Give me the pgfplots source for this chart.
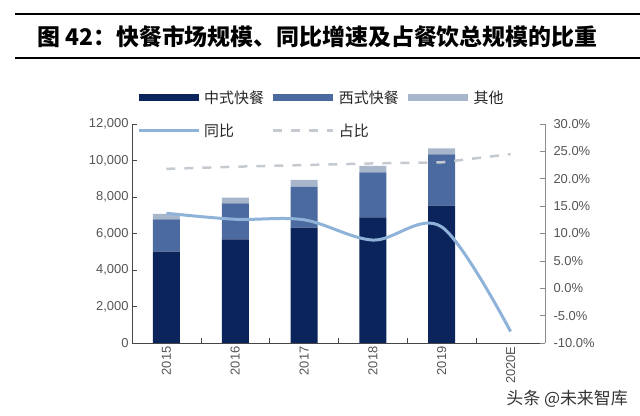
\documentclass[border=0pt]{standalone}
\usepackage{pgfplots}
\pgfplotsset{compat=1.18}
\usepackage{fontspec}
\setmainfont{Liberation Sans}
\newfontfamily\cjk{Noto Sans CJK SC}
\definecolor{cnavy}{RGB}{12,36,92}
\definecolor{cmid}{RGB}{74,106,160}
\definecolor{clight}{RGB}{168,182,204}
\definecolor{cyoy}{RGB}{142,178,216}
\definecolor{cshare}{RGB}{196,202,208}
\definecolor{caxis}{RGB}{70,70,70}
\definecolor{clabel}{RGB}{85,85,85}
\begin{document}
\begin{tikzpicture}
\path[use as bounding box] (0,0) rectangle (640bp,416bp);
\draw[line width=1.3bp] (15bp,402bp) -- (640bp,402bp);
\draw[line width=1.3bp] (15bp,358bp) -- (640bp,358bp);
\node[anchor=west, inner sep=0] at (37bp,379bp) {\fontsize{23}{27}\selectfont\cjk\bfseries 图 42：快餐市场规模、同比增速及占餐饮总规模的比重};
\begin{axis}[
  at={(132bp,73bp)}, anchor=south west, scale only axis,
  width=413bp, height=219bp,
  xmin=-0.5, xmax=5.5, ymin=0, ymax=12000,
  axis x line*=bottom, axis y line*=left,
  axis line style={caxis, line width=0.8bp},
  ybar stacked, bar width=27bp,
  xtick={0,1,2,3,4,5},
  xticklabels={2015,2016,2017,2018,2019,2020E},
  major x tick style={draw=none},
  minor xtick={0.5,1.5,2.5,3.5,4.5},
  minor x tick style={caxis, line width=0.6bp},
  minor tick length=5bp,
  xticklabel style={rotate=90, anchor=east, font=\fontsize{13}{15}\selectfont, text=clabel},
  ytick={0,2000,4000,6000,8000,10000,12000},
  scaled y ticks=false,
  y tick style={caxis, line width=0.6bp},
  major tick length=5bp,
  yticklabel style={font=\fontsize{13}{15}\selectfont, text=clabel,
    /pgf/number format/.cd, fixed, 1000 sep={,}, assume math mode=true},
  tick align=inside,
]
\addplot[fill=cnavy, draw=none] coordinates {(0,5000) (1,5680) (2,6320) (3,6890) (4,7525)};
\addplot[fill=cmid, draw=none] coordinates {(0,1780) (1,1975) (2,2250) (3,2460) (4,2815)};
\addplot[fill=clight, draw=none] coordinates {(0,290) (1,310) (2,365) (3,350) (4,325)};
\end{axis}
\begin{axis}[
  at={(132bp,73bp)}, anchor=south west, scale only axis,
  width=413bp, height=219bp,
  xmin=-0.5, xmax=5.5, ymin=-10, ymax=30,
  axis x line=none, axis y line*=right,
  axis line style={black!45, line width=0.8bp},
  ytick={-10,-5,0,5,10,15,20,25,30},
  scaled y ticks=false,
  y tick style={black!45, line width=0.6bp},
  major tick length=5bp,
  tick align=inside,
  yticklabel={\pgfmathprintnumber{\tick}\%},
  yticklabel style={font=\fontsize{13}{15}\selectfont, text=clabel, xshift=5bp,
    /pgf/number format/.cd, fixed, fixed zerofill, precision=1, assume math mode=true},
  legend columns=3,
  legend style={at={(0,1.172)}, anchor=north west, draw=none, fill=none,
    font=\cjk\fontsize{15}{17}\selectfont, text=black!85,
    /tikz/row sep=15bp,
    /tikz/every even column/.append style={column sep=4bp}},
  legend cell align=left,
  legend image code/.code={\draw[#1] (0bp,0bp) -- (60bp,0bp);},
]
\addlegendimage{cnavy, line width=7bp}
\addlegendentry{中式快餐}
\addlegendimage{cmid, line width=7bp}
\addlegendentry{西式快餐}
\addlegendimage{clight, line width=7bp}
\addlegendentry{其他}
\addplot[cyoy, line width=3bp, smooth, tension=0.55, mark=none] coordinates {(0,13.7) (1,12.6) (2,12.5) (3,8.8) (4,11.2) (5,-7.9)};
\addlegendentry{同比}
\addplot[cshare, line width=2.5bp, dash pattern=on 9bp off 9bp, mark=none] coordinates {(0,21.8) (1,22.2) (2,22.5) (3,22.8) (4,23.0) (5,24.5)};
\addlegendentry{占比}
\end{axis}
\node[anchor=east, inner sep=0, text=black!80] at (628bp,17bp) {\cjk\fontsize{17}{19}\selectfont 头条 @未来智库};
\end{tikzpicture}
\end{document}
